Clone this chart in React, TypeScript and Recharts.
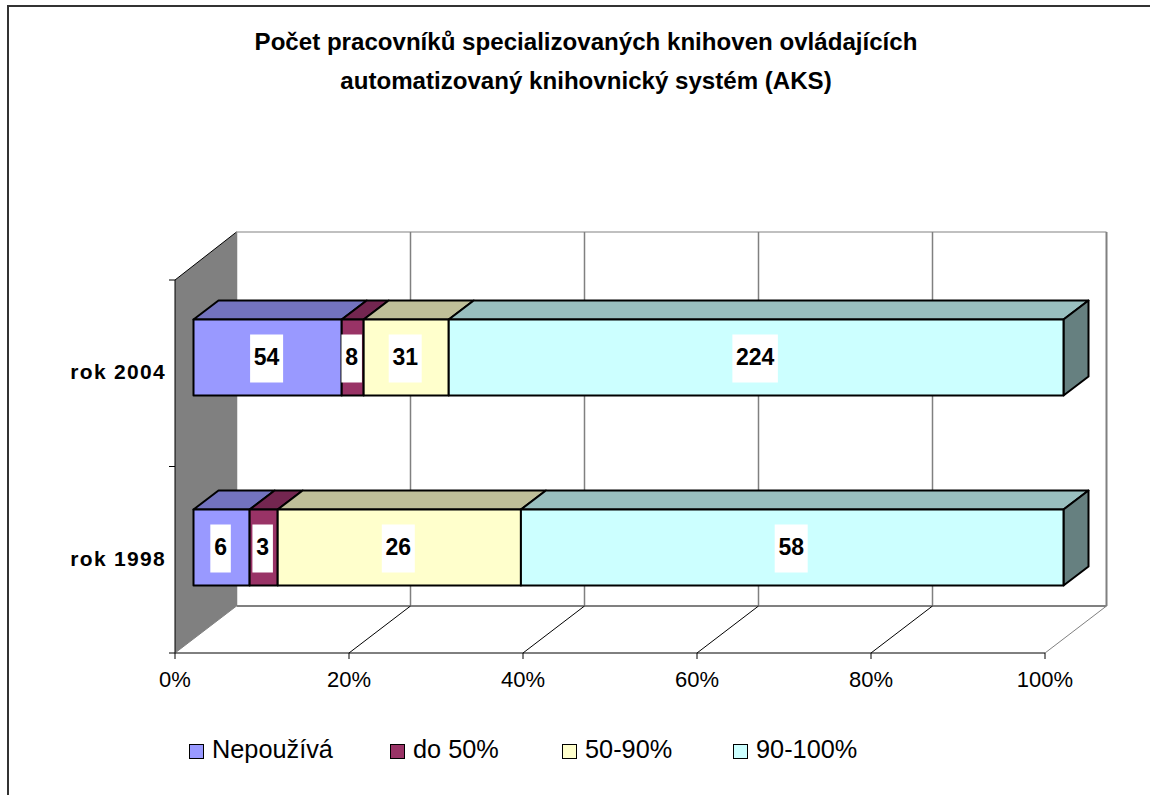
import React from "react";
import { BarChart, Bar, XAxis, YAxis, CartesianGrid, Legend } from "recharts";

const years = ["rok 2004", "rok 1998"];
const nepouziva = [54, 6];
const do50 = [8, 3];
const od50do90 = [31, 26];
const od90do100 = [224, 58];
const percentTicks = [0, 0.2, 0.4, 0.6, 0.8, 1];
const titleLines = [
  "Počet pracovníků specializovaných knihoven ovládajících",
  "automatizovaný knihovnický systém (AKS)",
];

const table = years.map((year, i) => ({
  year,
  nepouziva: nepouziva[i],
  do50: do50[i],
  od50do90: od50do90[i],
  od90do100: od90do100[i],
}));

// bars sit on the middle plane of the fake 3D box, the axis on the front one
const LEFT = 193.5;
const RIGHT = 1063.5;
const TOP = 262.5;
const BOTTOM = 642.5;
const FRONT_DX = -18.5;
const FRONT_Y = 653;
const BACK_DX = 43;
const BACK_TOP = 232;
const BACK_BOTTOM = 606;
const WALL_TOP = 280;
const BAR_DX = 25;
const BAR_DY = 19;
const font = "'Liberation Sans', Arial, sans-serif";

const shades: Record<string, [string, string]> = {
  "#9999FF": ["#7373BF", "#4C4C80"],
  "#993366": ["#732650", "#4C1933"],
  "#FFFFCC": ["#BFBF99", "#808066"],
  "#CCFFFF": ["#99BFBF", "#668080"],
};

function Box(props: any) {
  const { x, y, width, height, fill, label, last } = props;
  const [top, side] = shades[fill];
  const boxW = String(label).length * 12.5 + 8;
  const cx = x + width / 2;
  const cy = y + height / 2;
  return (
    <g stroke="#000" strokeWidth={2} strokeLinejoin="round">
      <polygon
        points={`${x},${y} ${x + BAR_DX},${y - BAR_DY} ${x + width + BAR_DX},${y - BAR_DY} ${x + width},${y}`}
        fill={top}
      />
      {last && (
        <polygon
          points={`${x + width},${y} ${x + width + BAR_DX},${y - BAR_DY} ${x + width + BAR_DX},${y + height - BAR_DY} ${x + width},${y + height}`}
          fill={side}
        />
      )}
      <rect x={x} y={y} width={width} height={height} fill={fill} />
      <rect x={cx - boxW / 2 - 1} y={cy - 23} width={boxW} height={48} fill="#fff" stroke="none" />
      <text
        x={cx - 1}
        y={cy + 7.5}
        textAnchor="middle"
        stroke="none"
        fill="#000"
        fontFamily={font}
        fontWeight="bold"
        fontSize={23}
      >
        {label}
      </text>
    </g>
  );
}

function GridLine(props: any) {
  const { x1, index } = props;
  const backX = x1 + BACK_DX;
  return (
    <g>
      {index === 0 && (
        <g>
          <polygon
            points={`${LEFT + FRONT_DX},${WALL_TOP} ${backX},${BACK_TOP} ${backX},${BACK_BOTTOM} ${LEFT + FRONT_DX},${FRONT_Y}`}
            fill="#808080"
            stroke="none"
          />
          <line x1={backX} y1={BACK_TOP} x2={RIGHT + BACK_DX} y2={BACK_TOP} stroke="#C0C0C0" strokeWidth={2} />
          <line x1={backX} y1={BACK_BOTTOM} x2={RIGHT + BACK_DX} y2={BACK_BOTTOM} stroke="#808080" strokeWidth={2} />
          <line x1={LEFT + FRONT_DX} y1={WALL_TOP} x2={backX} y2={BACK_TOP} stroke="#000" />
          <line x1={LEFT + FRONT_DX} y1={WALL_TOP} x2={LEFT + FRONT_DX} y2={FRONT_Y} stroke="#000" />
          <line x1={LEFT + FRONT_DX} y1={FRONT_Y} x2={backX} y2={BACK_BOTTOM} stroke="#808080" />
          {[WALL_TOP, (WALL_TOP + FRONT_Y) / 2, FRONT_Y].map((y) => (
            <line key={y} x1={LEFT + FRONT_DX - 6} y1={y} x2={LEFT + FRONT_DX} y2={y} stroke="#000" />
          ))}
          <line x1={LEFT + FRONT_DX} y1={FRONT_Y} x2={RIGHT + FRONT_DX} y2={FRONT_Y} stroke="#000" />
        </g>
      )}
      <line x1={backX} y1={BACK_TOP} x2={backX} y2={BACK_BOTTOM} stroke="#808080" strokeWidth={index === 5 ? 2 : 1.5} />
      {index > 0 && (
        <line
          x1={x1 + FRONT_DX}
          y1={FRONT_Y}
          x2={backX}
          y2={BACK_BOTTOM}
          stroke={index === 5 ? "#808080" : "#000"}
        />
      )}
    </g>
  );
}

function PercentTick(props: any) {
  const { x, payload } = props;
  const fx = x + FRONT_DX;
  return (
    <g>
      <line x1={fx} y1={FRONT_Y} x2={fx} y2={FRONT_Y + 6} stroke="#000" />
      <text x={fx} y={FRONT_Y + 34} textAnchor="middle" fontFamily={font} fontSize={22} fill="#000">
        {Math.round(payload.value * 100)}%
      </text>
    </g>
  );
}

function YearTick(props: any) {
  const { y, payload, index } = props;
  return (
    <text
      x={166}
      y={y + (index === 0 ? 21.5 : 18.5)}
      textAnchor="end"
      fontFamily={font}
      fontWeight="bold"
      fontSize={21}
      letterSpacing={1.3}
      fill="#000"
    >
      {payload.value}
    </text>
  );
}

const legendX = [189, 390, 562, 733];

function ChartLegend(props: any) {
  return (
    <div style={{ position: "relative", width: 1150, height: 40 }}>
      {(props.payload || []).map((item: any, i: number) => (
        <div key={item.value}>
          <div
            style={{
              position: "absolute",
              left: legendX[i],
              top: 3,
              width: 13,
              height: 13,
              background: item.color,
              border: "1.5px solid #000",
            }}
          />
          <div
            style={{
              position: "absolute",
              left: legendX[i] + 23,
              top: -6,
              fontFamily: font,
              fontSize: 25.3,
              lineHeight: "28px",
              color: "#000",
              whiteSpace: "nowrap",
            }}
          >
            {item.value}
          </div>
        </div>
      ))}
    </div>
  );
}

const series = [
  { key: "nepouziva", name: "Nepoužívá", fill: "#9999FF", values: nepouziva },
  { key: "do50", name: "do 50%", fill: "#993366", values: do50 },
  { key: "od50do90", name: "50-90%", fill: "#FFFFCC", values: od50do90 },
  { key: "od90do100", name: "90-100%", fill: "#CCFFFF", values: od90do100 },
];

export default function App() {
  return (
    <div style={{ position: "relative", width: 1150, height: 795, overflow: "hidden", background: "#fff" }}>
      <style>{"body{margin:0;overflow:hidden}"}</style>
      <div
        style={{
          position: "absolute",
          left: 7,
          top: 5,
          right: -4,
          bottom: -4,
          border: "2px solid #333",
        }}
      />
      <div
        style={{
          position: "absolute",
          left: 0,
          top: 22,
          width: 1172,
          textAlign: "center",
          fontFamily: font,
          fontWeight: "bold",
          fontSize: 24.1,
          lineHeight: "39px",
          color: "#000",
        }}
      >
        {titleLines.map((line) => (
          <div key={line}>{line}</div>
        ))}
      </div>
      <div style={{ position: "absolute", left: 0, top: 0 }}>
        <BarChart
          width={1150}
          height={795}
          data={table}
          layout="vertical"
          stackOffset="expand"
          barSize={76}
          margin={{ top: TOP, right: 1150 - RIGHT, bottom: 795 - BOTTOM - 30, left: LEFT - 60 }}
        >
          <CartesianGrid horizontal={false} vertical={(p: any) => <GridLine key={p.index} {...p} />} />
          <XAxis
            type="number"
            domain={[0, 1]}
            ticks={percentTicks}
            height={30}
            axisLine={false}
            tickLine={false}
            interval={0}
            tick={(p: any) => <PercentTick {...p} />}
          />
          <YAxis
            type="category"
            dataKey="year"
            width={60}
            axisLine={false}
            tickLine={false}
            tick={(p: any) => <YearTick {...p} />}
          />
          <Legend
            layout="horizontal"
            verticalAlign="middle"
            itemSorter={null}
            content={(p: any) => <ChartLegend {...p} />}
            wrapperStyle={{ left: 0, top: 741, width: 1150, height: 40, margin: 0 }}
          />
          {series.map((s, si) => (
            <Bar
              key={s.key}
              dataKey={s.key}
              name={s.name}
              stackId="a"
              fill={s.fill}
              isAnimationActive={false}
              shape={(p: any) => (
                <Box {...p} label={s.values[p.index]} last={si === series.length - 1} />
              )}
            />
          ))}
        </BarChart>
      </div>
    </div>
  );
}
